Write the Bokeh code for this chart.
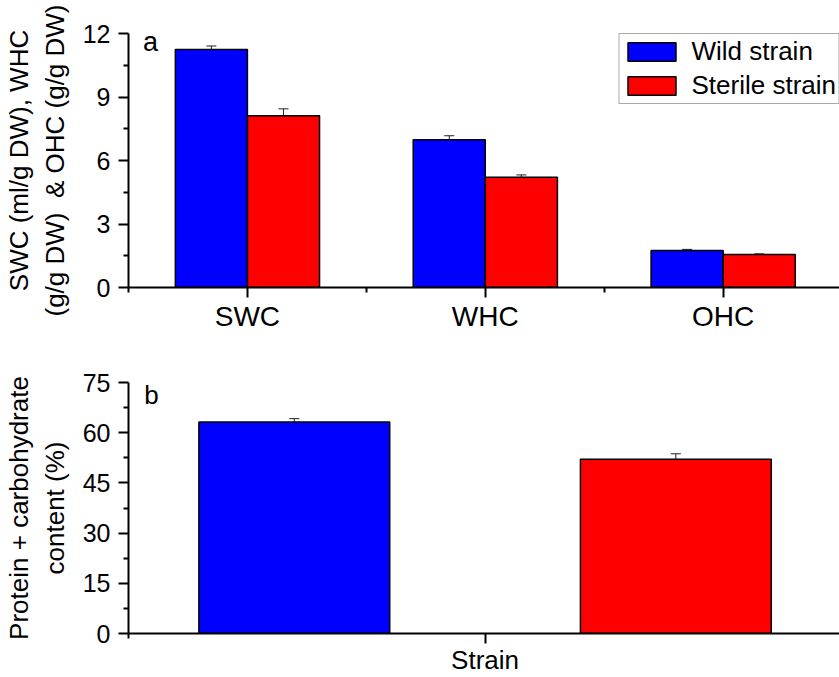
from bokeh.plotting import figure
from bokeh.models import (ColumnDataSource, FixedTicker, Whisker, TeeHead, Label,
                          Legend, LegendItem, Range1d)
from bokeh.layouts import column
from bokeh.embed import file_html
from bokeh.resources import INLINE

# ---- data ----
categories = ["SWC", "WHC", "OHC"]
wild = [11.24, 6.98, 1.75]
wild_err = [0.17, 0.19, 0.05]
sterile = [8.12, 5.21, 1.56]
sterile_err = [0.32, 0.11, 0.03]
series_names = ["Wild strain", "Sterile strain"]
top_yticks = [0, 3, 6, 9, 12]

strain_values = [63.2, 52.1]
strain_err = [1.0, 1.6]
bottom_yticks = [0, 15, 30, 45, 60, 75]

BLUE = "#0000FF"
RED = "#FF0000"
FONT = "Liberation Sans"


def style_axes(p, ysize="25px", lsize="26px"):
    for ax in (p.xaxis[0], p.yaxis[0]):
        ax.axis_line_width = 2
        ax.axis_line_color = "black"
        ax.major_tick_line_width = 2
        ax.minor_tick_line_width = 2
        ax.major_tick_in = 0
        ax.minor_tick_in = 0
        ax.major_tick_out = 10
        ax.minor_tick_out = 5
        ax.major_label_text_font = FONT
        ax.major_label_text_color = "black"
        ax.axis_label_text_font = FONT
        ax.axis_label_text_font_style = "normal"
        ax.axis_label_text_color = "black"
    p.yaxis[0].major_label_text_font_size = ysize
    p.yaxis[0].axis_label_text_font_size = lsize
    p.yaxis[0].major_label_standoff = 8
    p.yaxis[0].axis_label_standoff = 10
    p.xgrid.visible = False
    p.ygrid.visible = False
    p.outline_line_color = None
    p.background_fill_color = "white"
    p.border_fill_color = "white"


# ---- top panel ----
xc = [i + 1 for i in range(len(categories))]
off = 0.1516
bw = 0.303
src_w = ColumnDataSource(dict(x=[c - off for c in xc], top=wild,
                              upper=[v + e for v, e in zip(wild, wild_err)],
                              lower=[v - e for v, e in zip(wild, wild_err)]))
src_s = ColumnDataSource(dict(x=[c + off for c in xc], top=sterile,
                              upper=[v + e for v, e in zip(sterile, sterile_err)],
                              lower=[v - e for v, e in zip(sterile, sterile_err)]))

p1 = figure(width=839, height=337, output_backend="svg", toolbar_location=None,
            x_range=Range1d(0.5, 3.489), y_range=Range1d(0, 12),
            min_border_left=128, min_border_right=0, min_border_top=33,
            min_border_bottom=50)
rw = p1.vbar(x="x", top="top", width=bw, bottom=0, source=src_w,
             fill_color=BLUE, line_color="black", line_width=1.5)
rs = p1.vbar(x="x", top="top", width=bw, bottom=0, source=src_s,
             fill_color=RED, line_color="black", line_width=1.5)
for s in (src_w, src_s):
    p1.add_layout(Whisker(source=s, base="x", upper="upper", lower="lower",
                          line_color="#222222", line_width=1,
                          upper_head=TeeHead(size=10, line_color="#222222", line_width=1),
                          lower_head=TeeHead(size=10, line_color="#222222", line_width=1)))
style_axes(p1, lsize="26px")
p1.yaxis[0].ticker = FixedTicker(ticks=top_yticks,
                                 minor_ticks=[t + 1.5 for t in top_yticks[:-1]])
p1.yaxis[0].axis_label = "SWC (ml/g DW), WHC\n(g/g DW)\u00a0 & OHC (g/g DW)"
p1.xaxis[0].ticker = FixedTicker(ticks=xc, minor_ticks=[0.5, 1.5, 2.5, 3.5])
p1.xaxis[0].major_label_overrides = {c: n for c, n in zip(xc, categories)}
p1.xaxis[0].major_label_text_font_size = "28px"
p1.xaxis[0].major_label_standoff = 3
p1.add_layout(Label(x=0.561, y=11.58, text="a", text_font=FONT, text_font_size="27px",
                    text_color="black", text_baseline="alphabetic"))

legend = Legend(items=[LegendItem(label=series_names[0], renderers=[rw]),
                       LegendItem(label=series_names[1], renderers=[rs])],
                location="top_right", margin=0, padding=2, spacing=3,
                glyph_width=60, glyph_height=23, label_height=30,
                label_standoff=10, label_text_font=FONT, label_text_font_size="26px",
                label_text_color="black", border_line_color="#555555",
                border_line_width=1, background_fill_alpha=1.0)
p1.add_layout(legend)

# ---- bottom panel ----
bcenter = 0.5
boff = 0.2675
bbw = 0.2676
src_b = ColumnDataSource(dict(x=[bcenter - boff, bcenter + boff], top=strain_values,
                              color=[BLUE, RED],
                              upper=[v + e for v, e in zip(strain_values, strain_err)],
                              lower=[v - e for v, e in zip(strain_values, strain_err)]))
p2 = figure(width=839, height=340, output_backend="svg", toolbar_location=None,
            x_range=Range1d(0, 0.997), y_range=Range1d(0, 75),
            min_border_left=128, min_border_right=0, min_border_top=45,
            min_border_bottom=38)
p2.vbar(x="x", top="top", width=bbw, bottom=0, source=src_b,
        fill_color="color", line_color="black", line_width=1.5)
p2.add_layout(Whisker(source=src_b, base="x", upper="upper", lower="lower",
                      line_color="#222222", line_width=1,
                      upper_head=TeeHead(size=10, line_color="#222222", line_width=1),
                      lower_head=TeeHead(size=10, line_color="#222222", line_width=1)))
style_axes(p2, lsize="26px")
p2.yaxis[0].ticker = FixedTicker(ticks=bottom_yticks,
                                 minor_ticks=[t + 7.5 for t in bottom_yticks[:-1]])
p2.yaxis[0].axis_label = "Protein + carbohydrate\ncontent (%)"
p2.xaxis[0].ticker = FixedTicker(ticks=[bcenter], minor_ticks=[0.0])
p2.xaxis[0].major_label_overrides = {bcenter: "Strain"}
p2.xaxis[0].major_label_text_font_size = "26px"
p2.xaxis[0].major_label_text_line_height = 0.9
p2.xaxis[0].major_label_standoff = 1
p2.add_layout(Label(x=0.022, y=71.4, text="b", text_font=FONT, text_font_size="26px",
                    text_color="black", text_baseline="alphabetic"))

layout = column(p1, p2, spacing=0)
open("out.html", "w").write(file_html(layout, INLINE))
